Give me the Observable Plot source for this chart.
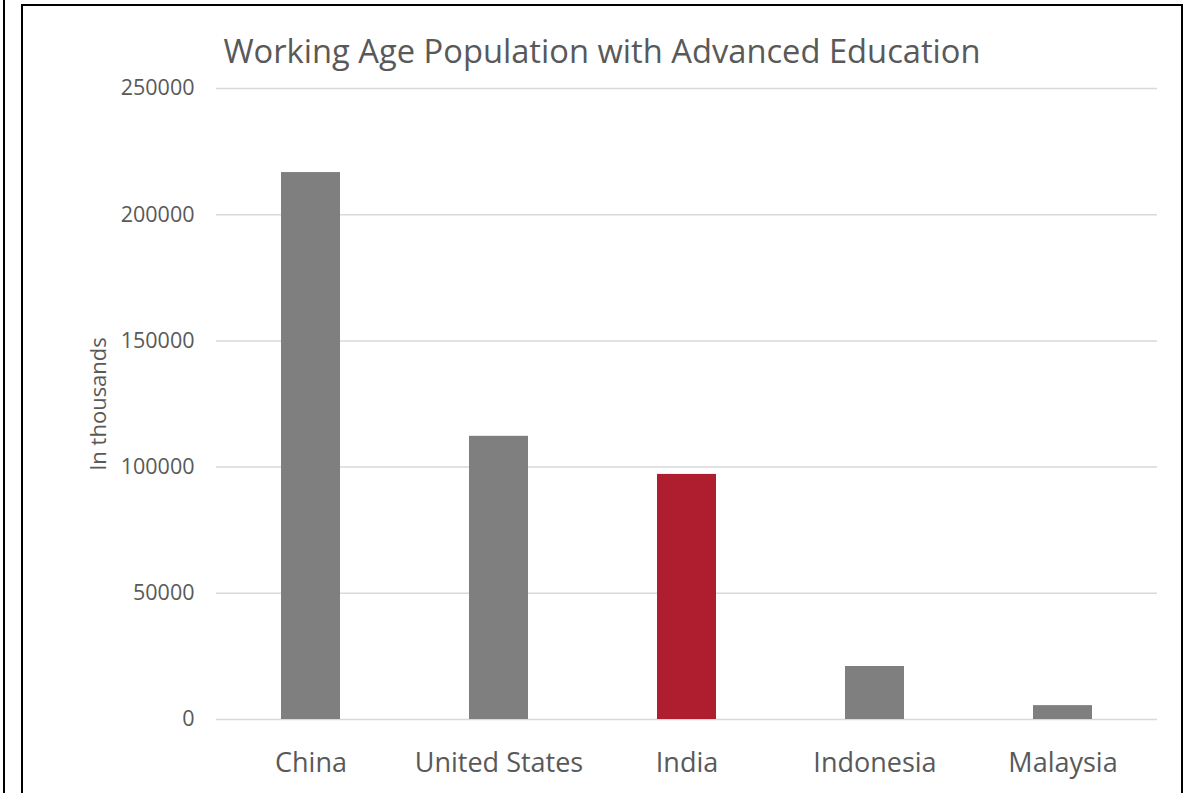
<!DOCTYPE html>
<html>
<head>
<meta charset="utf-8">
<script src="https://cdn.jsdelivr.net/npm/d3@7"></script>
<script src="https://cdn.jsdelivr.net/npm/@observablehq/plot@0.6"></script>
<style>
  html, body { margin: 0; padding: 0; background: #fff; overflow: hidden; }
  #wrap { position: relative; width: 1192px; height: 793px; }
  #lline { position: absolute; left: 3px; top: 0; width: 2px; height: 793px; background: #000; }
  #box { position: absolute; left: 21px; top: 4px; width: 1162px; height: 800px; border: 2px solid #000; box-sizing: border-box; }
  #title { position: absolute; left: 0; width: 1204px; top: 28px; text-align: center; font-family: "Open Sans", sans-serif; font-size: 32.7px; color: #595959; white-space: nowrap; }
  #chart { position: absolute; left: 0; top: 0; }
</style>
</head>
<body>
<div id="wrap">
  <div id="lline"></div>
  <div id="box"></div>
  <div id="chart"></div>
  <div id="title">Working Age Population with Advanced Education</div>
</div>
<script>
const countries = ["China", "United States", "India", "Indonesia", "Malaysia"];
const values = [216700, 112200, 97100, 21000, 5500];
const highlight = ["India"];
const yTicks = [0, 50000, 100000, 150000, 200000, 250000];
const yLabel = "In thousands";

const data = countries.map((c, i) => ({country: c, value: values[i], hi: highlight.includes(c)}));

const chart = Plot.plot({
  width: 1192,
  height: 793,
  marginLeft: 216,
  marginRight: 35,
  marginTop: 88,
  marginBottom: 74,
  style: {fontFamily: "Open Sans, sans-serif", background: "transparent"},
  x: {domain: countries, paddingInner: 0.686, paddingOuter: 0.343, label: null, tickSize: 0},
  y: {domain: [0, 250000], ticks: yTicks, label: null, tickSize: 0, grid: false},
  marks: [
    Plot.ruleY(yTicks, {stroke: "#d9d9d9", strokeWidth: 1.5}),
    Plot.barY(data, {x: "country", y: "value", fill: d => d.hi ? "#ae1e2f" : "#7f7f7f"}),
    Plot.axisY({ticks: yTicks, tickSize: 0, tickPadding: 22, tickFormat: d => String(d), fontSize: 21.5, fill: "#595959", label: null}),
    Plot.axisX({tickSize: 0, tickPadding: 33, fontSize: 27, fill: "#595959", label: null}),
    Plot.text([yLabel], {frameAnchor: "left", dx: -118, rotate: -90, textAnchor: "middle", fontSize: 22, fill: "#595959", text: d => d})
  ]
});
document.getElementById("chart").appendChild(chart);
</script>
</body>
</html>
